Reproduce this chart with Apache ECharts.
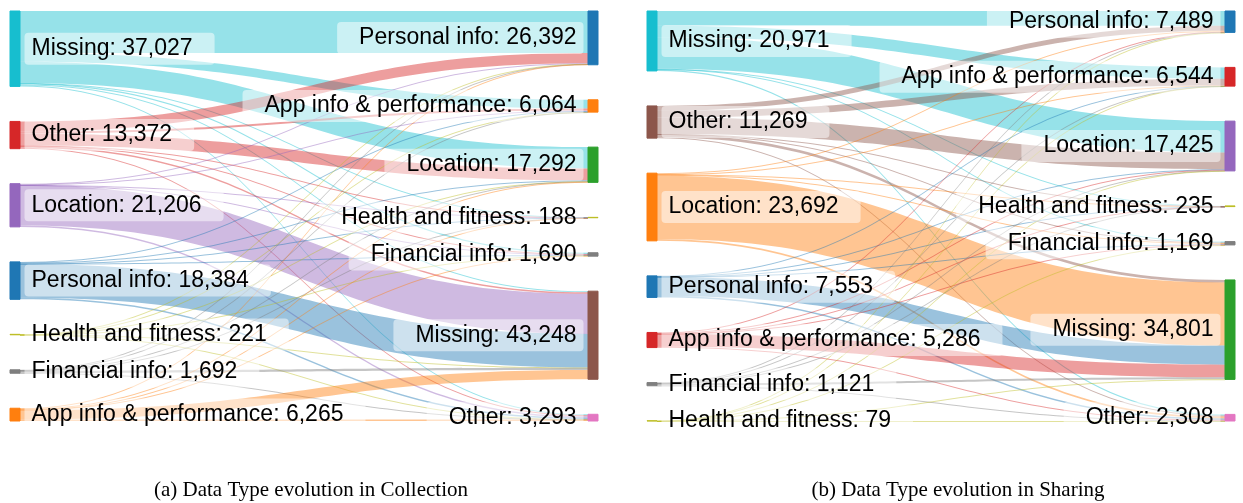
<!DOCTYPE html>
<html>
<head>
<meta charset="utf-8">
<script src="https://cdn.jsdelivr.net/npm/echarts@6/dist/echarts.min.js"></script>
<style>
html, body { margin: 0; padding: 0; background: #fff; }
#main { width: 1243px; height: 503px; }
</style>
</head>
<body>
<div id="main"></div>
<script>
// (a) collection: data type before (left) -> after (right)
var leftA = ['Missing', 'Other', 'Location', 'Personal info', 'Health and fitness', 'Financial info', 'App info & performance'];
var rightA = ['Personal info', 'App info & performance', 'Location', 'Health and fitness', 'Financial info', 'Missing', 'Other'];
// rows = left nodes, cols = right nodes
var flowA = [
    [20602, 4294, 10500, 65, 566, 500, 500],
    [5000, 1000, 5800, 20, 300, 800, 452],
    [350, 250, 0, 20, 200, 19686, 700],
    [0, 400, 400, 30, 266, 16500, 788],
    [40, 20, 40, 0, 10, 90, 21],
    [150, 100, 200, 10, 0, 1100, 132],
    [250, 0, 352, 43, 348, 4572, 700]
];

// (b) sharing
var leftB = ['Missing', 'Other', 'Location', 'Personal info', 'App info & performance', 'Financial info', 'Health and fitness'];
var rightB = ['Personal info', 'App info & performance', 'Location', 'Health and fitness', 'Financial info', 'Missing', 'Other'];
var flowB = [
    [5200, 4000, 11005, 60, 295, 0, 411],
    [1700, 2300, 5800, 30, 200, 900, 339],
    [329, 119, 0, 75, 420, 22071, 678],
    [0, 60, 200, 20, 100, 6700, 473],
    [150, 0, 250, 30, 150, 4400, 306],
    [100, 60, 150, 20, 0, 700, 91],
    [10, 5, 20, 0, 4, 30, 10]
];

var captions = ['(a) Data Type evolution in Collection', '(b) Data Type evolution in Sharing'];

// node colours
var leftColA = ['#17becf', '#d62728', '#9467bd', '#1f77b4', '#bcbd22', '#7f7f7f', '#ff7f0e'];
var rightColA = ['#1f77b4', '#ff7f0e', '#2ca02c', '#bcbd22', '#7f7f7f', '#8c564b', '#e377c2'];
var leftColB = ['#17becf', '#8c564b', '#ff7f0e', '#1f77b4', '#d62728', '#7f7f7f', '#bcbd22'];
var rightColB = ['#1f77b4', '#d62728', '#9467bd', '#bcbd22', '#7f7f7f', '#2ca02c', '#e377c2'];

var labelFont = "'Liberation Sans', Arial, sans-serif";

function makeSankey(leftNames, rightNames, flows, leftCol, rightCol, x) {
    var nodes = [], links = [];
    leftNames.forEach(function (n, i) {
        var tot = 0;
        flows[i].forEach(function (v) { tot += v; });
        nodes.push({ name: 'L' + i, txt: n, value: tot,
            itemStyle: { color: leftCol[i], borderColor: leftCol[i], borderWidth: 1 } });
    });
    rightNames.forEach(function (n, j) {
        var tot = 0;
        flows.forEach(function (row) { tot += row[j]; });
        nodes.push({ name: 'R' + j, txt: n, value: tot,
            itemStyle: { color: rightCol[j], borderColor: rightCol[j], borderWidth: 1 },
            label: { position: 'left', padding: [5, 7, 4, 22] } });
    });
    flows.forEach(function (row, i) {
        row.forEach(function (v, j) {
            if (v > 0) links.push({ source: 'L' + i, target: 'R' + j, value: v });
        });
    });
    return {
        type: 'sankey',
        left: x,
        top: 11,
        width: 588,
        height: 410,
        nodeWidth: 10,
        nodeGap: 35,
        layoutIterations: 0,
        draggable: false,
        emphasis: { disabled: true },
        data: nodes,
        links: links,
        lineStyle: { color: 'source', opacity: 0.45, curveness: 0.5 },
        label: {
            color: '#000',
            fontFamily: labelFont,
            fontSize: 23,
            distance: 4,
            backgroundColor: 'rgba(255,255,255,0.5)',
            borderRadius: 4,
            padding: [5, 22, 4, 7],
            formatter: function (p) {
                return p.data.txt + ': ' + p.value.toLocaleString('en-US');
            }
        }
    };
}

var myChart = echarts.init(document.getElementById('main'));
var option = {
    animation: false,
    backgroundColor: '#fff',
    graphic: [
        { type: 'text', x: 311, y: 490, style: { text: captions[0], font: "21px 'Liberation Serif', 'Times New Roman', serif", fill: '#000', align: 'center', verticalAlign: 'middle' } },
        { type: 'text', x: 958, y: 490, style: { text: captions[1], font: "21px 'Liberation Serif', 'Times New Roman', serif", fill: '#000', align: 'center', verticalAlign: 'middle' } }
    ],
    series: [
        makeSankey(leftA, rightA, flowA, leftColA, rightColA, 10),
        makeSankey(leftB, rightB, flowB, leftColB, rightColB, 647)
    ]
};
myChart.setOption(option);
</script>
</body>
</html>
